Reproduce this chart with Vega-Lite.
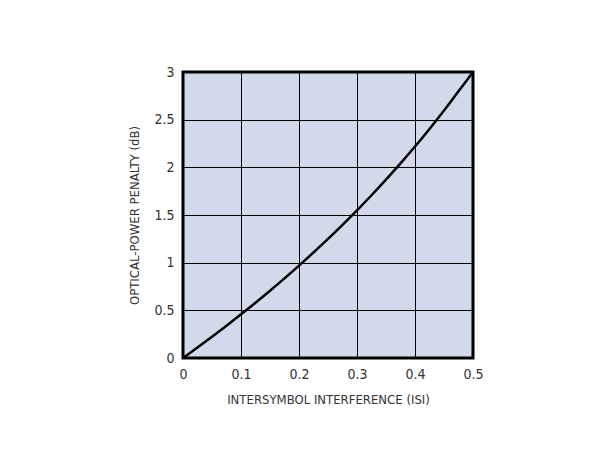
{
  "$schema": "https://vega.github.io/schema/vega-lite/v6.json",
  "width": 290,
  "height": 286,
  "autosize": {"type": "none"},
  "padding": {"left": 183, "top": 72, "right": 124, "bottom": 105},
  "background": "white",
  "config": {
    "view": {"fill": "#d1d9eb", "stroke": "black", "strokeWidth": 3},
    "font": "'DejaVu Sans Condensed', 'Liberation Sans', sans-serif",
    "axis": {
      "labelFont": "'DejaVu Sans Condensed', 'Liberation Sans', sans-serif",
      "titleFont": "'DejaVu Sans Condensed', 'Liberation Sans', sans-serif",
      "labelFontSize": 14,
      "titleFontSize": 13,
      "titleFontWeight": "normal",
      "labelColor": "#333333",
      "titleColor": "#333333",
      "gridColor": "black",
      "gridWidth": 1,
      "gridOpacity": 1,
      "domain": false,
      "ticks": false,
      "labelFlush": false
    }
  },
  "data": {
    "values": [
      {"isi": 0, "penalty": 0},
      {"isi": 0.025, "penalty": 0.11},
      {"isi": 0.05, "penalty": 0.223},
      {"isi": 0.075, "penalty": 0.339},
      {"isi": 0.1, "penalty": 0.458},
      {"isi": 0.125, "penalty": 0.58},
      {"isi": 0.15, "penalty": 0.706},
      {"isi": 0.175, "penalty": 0.835},
      {"isi": 0.2, "penalty": 0.969},
      {"isi": 0.225, "penalty": 1.107},
      {"isi": 0.25, "penalty": 1.249},
      {"isi": 0.275, "penalty": 1.397},
      {"isi": 0.3, "penalty": 1.549},
      {"isi": 0.325, "penalty": 1.707},
      {"isi": 0.35, "penalty": 1.871},
      {"isi": 0.375, "penalty": 2.041},
      {"isi": 0.4, "penalty": 2.218},
      {"isi": 0.425, "penalty": 2.403},
      {"isi": 0.45, "penalty": 2.596},
      {"isi": 0.475, "penalty": 2.798},
      {"isi": 0.5, "penalty": 3.0}
    ]
  },
  "mark": {"type": "line", "color": "black", "strokeWidth": 2.5, "interpolate": "monotone", "clip": true},
  "encoding": {
    "x": {
      "field": "isi",
      "type": "quantitative",
      "scale": {"domain": [0, 0.5], "nice": false, "zero": true},
      "axis": {
        "values": [0, 0.1, 0.2, 0.3, 0.4, 0.5],
        "format": "~f",
        "labelPadding": 9,
        "title": "INTERSYMBOL INTERFERENCE (ISI)",
        "titlePadding": 12
      }
    },
    "y": {
      "field": "penalty",
      "type": "quantitative",
      "scale": {"domain": [0, 3], "nice": false},
      "axis": {
        "values": [0, 0.5, 1, 1.5, 2, 2.5, 3],
        "format": "~f",
        "labelPadding": 9,
        "title": "OPTICAL-POWER PENALTY (dB)",
        "titlePadding": 12
      }
    }
  }
}
